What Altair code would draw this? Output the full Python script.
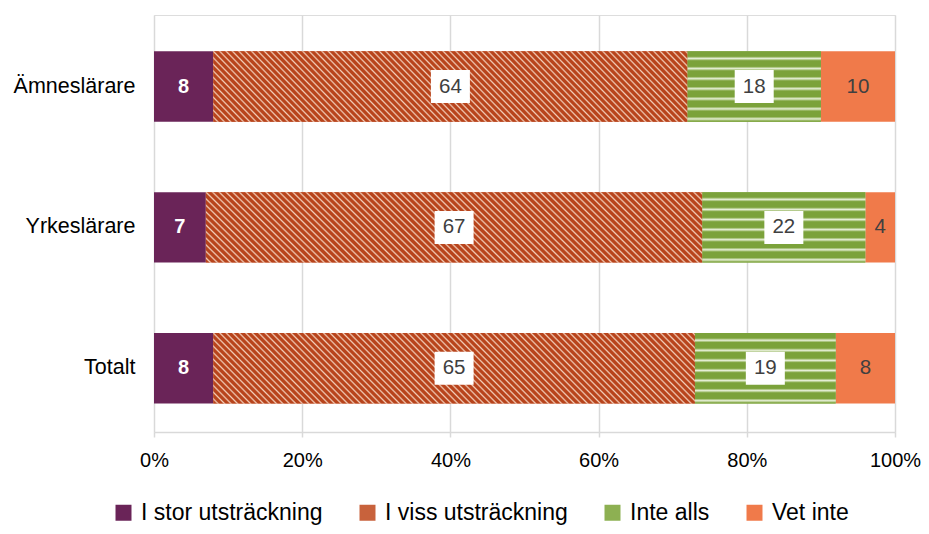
import altair as alt
import pandas as pd

groups = ["Ämneslärare", "Yrkeslärare", "Totalt"]
series = ["I stor utsträckning", "I viss utsträckning", "Inte alls", "Vet inte"]
stor = [8, 7, 8]
viss = [64, 67, 65]
inte = [18, 22, 19]
vet = [10, 4, 8]
ticks = [0, 20, 40, 60, 80, 100]

legend_colors = ["#6A2458", "#C8623C", "#8DB052", "#F07A4A"]
FONT = "Liberation Sans"

rows = []
for i, g in enumerate(groups):
    for j, (s, vals) in enumerate(zip(series, [stor, viss, inte, vet])):
        rows.append({"group": g, "series": s, "order": j, "value": vals[i]})
df = pd.DataFrame(rows)


def stripe_stops(base, light, n, lo, peak, hi):
    stops = []
    for k in range(n):
        a = k / n
        stops += [
            alt.GradientStop(offset=a, color=base),
            alt.GradientStop(offset=a + lo / n, color=base),
            alt.GradientStop(offset=a + peak / n, color=light),
            alt.GradientStop(offset=a + hi / n, color=base),
        ]
    stops.append(alt.GradientStop(offset=1, color=base))
    return stops


# diagonal hatch: gradient vector from bottom-left to beyond top-right (bbox units)
k_ratio = 0.144
s_len = (1 + k_ratio) / (1 + k_ratio ** 2)
hatch = alt.LinearGradient(
    gradient="linear",
    stops=stripe_stops("#B8441C", "#F2CDB8", 85, 0.45, 0.72, 0.98),
    x1=0, y1=1, x2=round(s_len, 4), y2=round(1 - s_len * k_ratio, 4),
)
wave = alt.LinearGradient(
    gradient="linear",
    stops=stripe_stops("#7BA23A", "#E6EFD6", 7, 0.5, 0.72, 0.94),
    x1=0, y1=0, x2=0, y2=1,
)

base = alt.Chart(df).transform_stack(
    stack="value", groupby=["group"], as_=["x0", "x1"],
    sort=[alt.SortField("order", order="ascending")],
).transform_calculate(mid="(datum.x0 + datum.x1) / 2")

y_enc = alt.Y(
    "group:N", sort=groups, title=None,
    scale=alt.Scale(paddingInner=0.5, paddingOuter=0.23, align=0.56),
    axis=alt.Axis(domain=False, ticks=False, labelFontSize=21.5, labelFont=FONT,
                  labelColor="#000000", labelPadding=19, grid=False),
)
x_enc = alt.X(
    "x0:Q", title=None, scale=alt.Scale(domain=[0, 100], nice=False),
    axis=alt.Axis(values=ticks, labelExpr="datum.value + '%'", labelFontSize=20,
                  labelFont=FONT, labelColor="#000000", labelFlush=False, grid=True,
                  gridColor="#D9D9D9", gridWidth=1.5, domainColor="#D9D9D9",
                  domainWidth=1.5, tickColor="#D9D9D9", tickWidth=1.5, tickSize=5,
                  labelPadding=13),
)

bars = base.mark_bar().encode(
    y=y_enc, x=x_enc, x2="x1:Q",
    color=alt.Color(
        "series:N",
        scale=alt.Scale(domain=series, range=legend_colors),
        legend=alt.Legend(
            title=None, orient="none", direction="horizontal",
            legendX=-42, legendY=486, symbolType="square", symbolSize=256,
            symbolStrokeWidth=0, symbolOpacity=1, labelFontSize=23,
            labelFont=FONT, labelColor="#000000", labelOffset=6,
            columnPadding=33, labelLimit=400,
        ),
    ),
)

hatch_bars = base.transform_filter(alt.datum.series == series[1]).mark_bar(
    color=hatch).encode(y=y_enc, x=x_enc, x2="x1:Q")
wave_bars = base.transform_filter(alt.datum.series == series[2]).mark_bar(
    color=wave).encode(y=y_enc, x=x_enc, x2="x1:Q")

boxes = base.transform_filter(
    (alt.datum.series == series[1]) | (alt.datum.series == series[2])
).mark_point(
    shape="M-1,-0.846L1,-0.846L1,0.846L-1,0.846Z", filled=True, fill="white",
    opacity=1, size=1521, strokeWidth=0,
).encode(y=y_enc, x=alt.X("mid:Q"))

bold_labels = base.transform_filter(alt.datum.series == series[0]).mark_text(
    color="white", fontWeight="bold", fontSize=20, font=FONT,
).encode(y=y_enc, x=alt.X("mid:Q"), text="value:Q")

plain_labels = base.transform_filter(alt.datum.series != series[0]).mark_text(
    color="#404040", fontSize=20.5, font=FONT,
).encode(y=y_enc, x=alt.X("mid:Q"), text="value:Q")

chart = alt.layer(bars, hatch_bars, wave_bars, boxes, bold_labels, plain_labels).properties(
    width=741, height=417,
    autosize=alt.AutoSizeParams(type="none"),
    padding={"left": 146, "top": 7, "right": 26, "bottom": 94},
).configure_view(stroke="#D9D9D9", strokeWidth=1.5).configure(background="white")

chart.save("out.html", embed_options={"renderer": "svg", "actions": False})
